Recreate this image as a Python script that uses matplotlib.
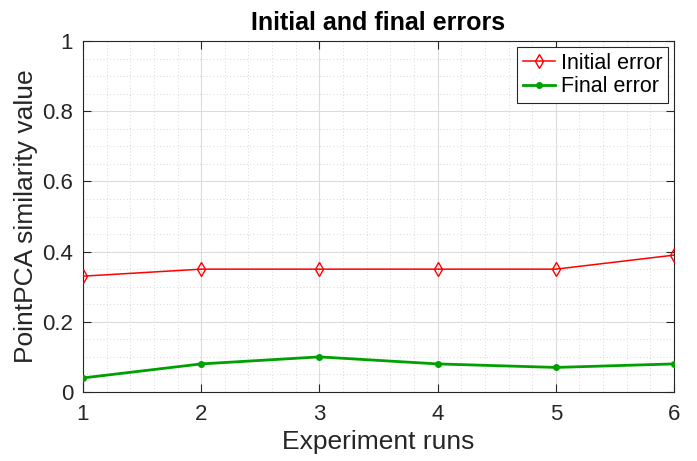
import matplotlib
matplotlib.use("Agg")
import matplotlib.pyplot as plt
from matplotlib.ticker import MultipleLocator

runs = [1, 2, 3, 4, 5, 6]
initial_error = [0.33, 0.35, 0.35, 0.35, 0.35, 0.39]
final_error = [0.04, 0.08, 0.10, 0.08, 0.07, 0.08]
ytick_labels = ['0', '0.2', '0.4', '0.6', '0.8', '1']

plt.rcParams['font.family'] = ['Liberation Sans', 'DejaVu Sans']

fig = plt.figure(figsize=(6.97, 4.61), dpi=100)
ax = fig.add_axes([0.119, 0.1497, 0.848, 0.7613])

ax.plot(runs, initial_error, color='#ff0000', lw=1.1, marker='d', ms=7.5,
        mfc='none', mec='#ff0000', mew=1.0, label='Initial error', zorder=3)
ax.plot(runs, final_error, color='#00a000', lw=2.0, marker='o', ms=4,
        mfc='#00a000', mec='#00a000', label='Final error', zorder=3)

ax.set_xlim(1, 6)
ax.set_ylim(0, 1)
ax.xaxis.set_major_locator(MultipleLocator(1))
ax.xaxis.set_minor_locator(MultipleLocator(0.2))
ax.set_yticks([0, 0.2, 0.4, 0.6, 0.8, 1.0])
ax.set_yticklabels(ytick_labels)
ax.yaxis.set_minor_locator(MultipleLocator(0.05))

ax.grid(which='major', color='#dcdcdc', lw=0.8)
ax.grid(which='minor', color='#cccccc', lw=0.6, ls=(0, (1, 3)))
ax.tick_params(which='both', direction='in', top=True, right=True,
               labelsize=16, colors='#262626')
ax.tick_params(which='major', length=6)
ax.tick_params(axis='x', pad=9)
ax.tick_params(axis='y', pad=7)
ax.tick_params(which='minor', length=0)
for s in ax.spines.values():
    s.set_color('#262626')
    s.set_linewidth(0.8)

ax.set_xlabel('Experiment runs', fontsize=19, color='#262626', labelpad=3)
ax.set_ylabel('PointPCA similarity value', fontsize=19, color='#262626', labelpad=3)
ax.set_title('Initial and final errors', fontsize=18, fontweight='bold', pad=8)

leg = ax.legend(loc='upper right', fontsize=15.5, fancybox=False,
                edgecolor='#262626', framealpha=1, handlelength=1.5,
                borderaxespad=0.3, labelspacing=0.12, borderpad=0.25,
                handletextpad=0.25)
leg.get_frame().set_linewidth(0.8)

fig.savefig('out.png', dpi=100)
